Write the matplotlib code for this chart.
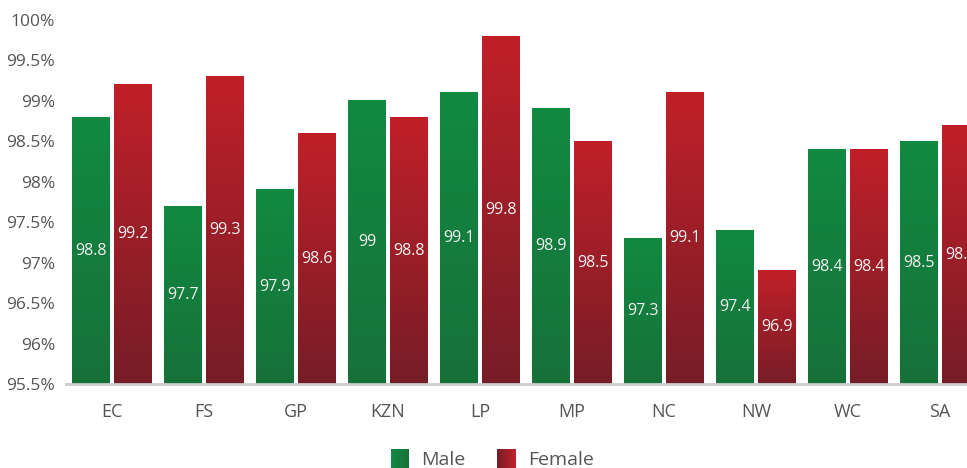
import matplotlib.pyplot as plt
import numpy as np
from matplotlib.colors import LinearSegmentedColormap
from matplotlib.legend_handler import HandlerBase
from matplotlib.patches import Rectangle

provinces = ["EC", "FS", "GP", "KZN", "LP", "MP", "NC", "NW", "WC", "SA"]
male = [98.8, 97.7, 97.9, 99, 99.1, 98.9, 97.3, 97.4, 98.4, 98.5]
female = [99.2, 99.3, 98.6, 98.8, 99.8, 98.5, 99.1, 96.9, 98.4, 98.7]
y_ticks = [95.5, 96, 96.5, 97, 97.5, 98, 98.5, 99, 99.5, 100]

# top colour -> bottom colour for each series
male_cols = ("#118a42", "#177139")
female_cols = ("#c12029", "#761d27")


def gradient_bar(ax, x, width, top, bottom, cols):
    cmap = LinearSegmentedColormap.from_list("g", [cols[1], cols[0]])
    grad = np.linspace(0, 1, 256).reshape(-1, 1)
    ax.imshow(grad, cmap=cmap, aspect="auto", origin="lower",
              extent=(x - width / 2, x + width / 2, bottom, top), zorder=2)


class GradientHandler(HandlerBase):
    """Legend swatch drawn as a left-to-right gradient of thin strips."""

    def __init__(self, left, right, n=30):
        super().__init__()
        self.cmap = LinearSegmentedColormap.from_list("h", [left, right])
        self.n = n

    def create_artists(self, legend, orig_handle, xdescent, ydescent,
                       width, height, fontsize, trans):
        side = height * 1.35
        x0 = -xdescent + (width - side) / 2
        y0 = -ydescent + (height - side) / 2
        step = side / self.n
        out = []
        for i in range(self.n):
            r = Rectangle((x0 + i * step, y0), step * 1.05, side,
                          facecolor=self.cmap(i / (self.n - 1)),
                          edgecolor="none", transform=trans)
            out.append(r)
        return out


fig = plt.figure(figsize=(9.67, 4.68), dpi=100)
ax = fig.add_axes([66 / 967, 84 / 468, 920 / 967, 364 / 468])

bw = 0.413
off = 0.228
base = y_ticks[0]
for i in range(len(provinces)):
    for val, dx, cols in ((male[i], -off, male_cols), (female[i], off, female_cols)):
        gradient_bar(ax, i + dx, bw, val, base, cols)
        ax.text(i + dx, (val + base) / 2, f"{val:g}", ha="center", va="center",
                color="#f2f2f2", fontsize=11.5, family="Open Sans", zorder=3)

ax.set_xlim(-0.5, len(provinces) - 0.5)
ax.set_ylim(base, 100)
ax.set_xticks(range(len(provinces)))
ax.set_xticklabels(provinces, fontsize=13, color="#555555", family="Open Sans")
ax.set_yticks(y_ticks)
ax.set_yticklabels([f"{t:g}%" for t in y_ticks], fontsize=12.5,
                   color="#555555", family="Open Sans")
ax.tick_params(length=0)
ax.tick_params(axis="x", pad=14)
ax.tick_params(axis="y", pad=8)
for side in ("left", "right", "top"):
    ax.spines[side].set_visible(False)
ax.spines["bottom"].set_color("#cccccc")
ax.spines["bottom"].set_linewidth(2)
ax.set_facecolor("white")

h_male = Rectangle((0, 0), 1, 1)
h_female = Rectangle((0, 0), 1, 1)
fig.legend([h_male, h_female], ["Male", "Female"],
           handler_map={h_male: GradientHandler(male_cols[0], male_cols[1]),
                        h_female: GradientHandler(female_cols[1], female_cols[0])},
           loc="lower center", bbox_to_anchor=(492 / 967, -0.04), ncol=2,
           frameon=False, prop={"family": "Open Sans", "size": 14},
           labelcolor="#555555", handlelength=1.0, handletextpad=0.6,
           columnspacing=1.6)

fig.savefig("out.png", dpi=100)
